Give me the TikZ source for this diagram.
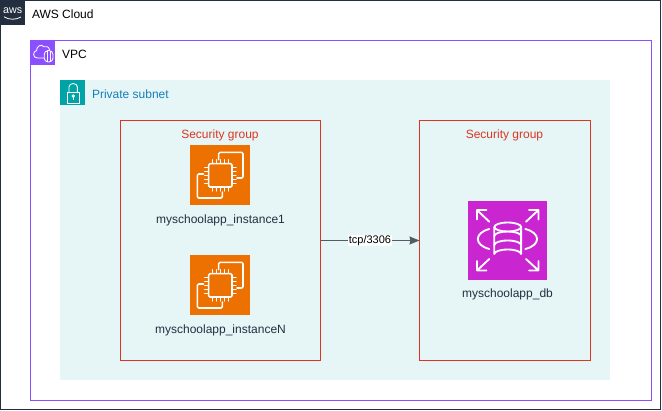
\documentclass[tikz,border=0pt]{standalone}
\usepackage{fontspec}
\setmainfont{Liberation Sans}
\usetikzlibrary{arrows.meta,positioning}
\definecolor{awsdark}{HTML}{232F3E}
\definecolor{vpcpurple}{HTML}{8C4FFF}
\definecolor{subteal}{HTML}{00A4A6}
\definecolor{subfill}{HTML}{E6F6F7}
\definecolor{subtext}{HTML}{147EBA}
\definecolor{sgred}{HTML}{DD3522}
\definecolor{ec2orange}{HTML}{ED7100}
\definecolor{rdspink}{HTML}{C925D1}
\definecolor{linegray}{HTML}{545B64}
\definecolor{labeltext}{HTML}{232F3E}
\tikzset{
  px/.style={inner sep=0pt,outer sep=0pt},
  boxframe/.style={px,draw,line width=0.75pt,anchor=north west},
  iconbox/.style={px,anchor=north west,minimum width=#1*0.75pt,minimum height=#1*0.75pt},
  glyph/.style={draw=white,line width=1.15pt,line join=round,line cap=round,fill=none},
  thinglyph/.style={draw=white,line width=0.65pt,line join=round,fill=none},
  lab/.style={px,font=\fontsize{9}{11}\selectfont,text=black},
  sgtitle/.style={lab,text=sgred},
  iconlab/.style={lab,text=labeltext},
}
\newcommand{\ectwo}[1]{%
\begin{scope}[shift={(#1)}]
  \draw[glyph,rounded corners=1pt] (28.7,14.7) -- (28.7,7.3) -- (53,7.3) -- (53,33) -- (47,33);
  \draw[glyph,rounded corners=1pt] (13.7,29) -- (7.3,29) -- (7.3,53) -- (32.3,53) -- (32.3,47);
  \draw[glyph,rounded corners=1pt] (18.7,18.7) rectangle (42,42);
  \foreach \p in {22.3,26.3,30.3,34.3,38.3}{
    \draw[glyph,line width=0.8pt] (\p,14.7) -- (\p,18.7);
    \draw[glyph,line width=0.8pt] (\p,42) -- (\p,46);
    \draw[glyph,line width=0.8pt] (14.7,\p) -- (18.7,\p);
    \draw[glyph,line width=0.8pt] (42,\p) -- (46,\p);
  }
\end{scope}}
\begin{document}
\begin{tikzpicture}[x=0.75pt,y=-0.75pt]
\useasboundingbox (0,0) rectangle (662,411);
\fill[white] (0,0) rectangle (662,411);
% containers
\node[boxframe,draw=awsdark,minimum width=659.5*0.75pt,minimum height=409*0.75pt] (cloud) at (0.5,0.5) {};
\node[boxframe,draw=vpcpurple,minimum width=620.5*0.75pt,minimum height=359.5*0.75pt] (vpc) at (30.5,40.5) {};
\node[px,anchor=north west,fill=subfill,minimum width=550*0.75pt,minimum height=300*0.75pt] (subnet) at (60,80) {};
\node[boxframe,draw=sgred,minimum width=200*0.75pt,minimum height=240*0.75pt] (sgleft) at (120.5,120.5) {};
\node[boxframe,draw=sgred,minimum width=171*0.75pt,minimum height=240*0.75pt] (sgright) at (419.5,120.5) {};
% AWS badge
\node[iconbox=25,fill=awsdark] (awsicon) at (0,0) {};
\node[px,text=white,font=\fontsize{8}{8}\selectfont] (awsword) at (12.7,10.8) {aws};
\draw[white,line width=0.6pt] (4,16.8) .. controls (9,20) and (16,20) .. (21,17);
% VPC badge
\node[iconbox=25,fill=vpcpurple] (vpcicon) at (30,40) {};
\begin{scope}[shift={(30,40)}]
  \draw[thinglyph] (14,18) -- (7.5,18) .. controls (2.5,18) and (2.5,11.5) .. (6.5,10.5) .. controls (6.5,6) and (11.5,3.5) .. (14,6.8) .. controls (16,5.5) and (19.5,7) .. (19.5,10);
  \draw[thinglyph,rounded corners=3pt] (14.2,10.5) rectangle (23,22);
  \draw[thinglyph] (17,11) -- (17,21.5) (20.2,11) -- (20.2,21.5);
\end{scope}
% subnet badge
\node[iconbox=25,fill=subteal] (subicon) at (60,80) {};
\begin{scope}[shift={(60,80)}]
  \draw[thinglyph] (7,12) rectangle (19.5,23.5);
  \draw[thinglyph] (9,12) -- (9,7) arc[start angle=180,end angle=360,x radius=4.2,y radius=3.5] -- (17.4,12);
  \draw[thinglyph] (13.2,16) circle[radius=1.3];
  \draw[thinglyph] (13.2,17.3) -- (13.2,20);
\end{scope}
% container labels
\node[lab,anchor=west] (cloudlab) at (32,14) {AWS Cloud};
\node[lab,anchor=west] (vpclab) at (62,54) {VPC};
\node[lab,anchor=west,text=subtext] (sublab) at (92,94) {Private subnet};
\node[sgtitle] (sgltitle) at (220,135.3) {Security group};
\node[sgtitle] (sgrtitle) at (504.5,135.3) {Security group};
% EC2 icons
\node[iconbox=60,fill=ec2orange] (econe) at (190,145) {};
\ectwo{190,145}
\node[iconbox=60,fill=ec2orange] (ectwob) at (190,255) {};
\ectwo{190,255}
\node[iconlab] (eclabone) at (220.5,220.2) {myschoolapp\_instance1};
\node[iconlab] (eclabtwo) at (220.5,330.2) {myschoolapp\_instanceN};
% RDS icon
\node[iconbox=79,fill=rdspink] (rds) at (468,201) {};
\begin{scope}[shift={(468,201)}]
  \draw[glyph,line width=1.4pt] (39.7,26) ellipse[x radius=13.4,y radius=4.5];
  \draw[glyph,line width=1.4pt] (26.3,26) -- (26.3,53) arc[start angle=180,end angle=360,x radius=13.4,y radius=4.5] -- (53.1,26);
  \draw[glyph,line width=1.4pt] (26.3,35) arc[start angle=180,end angle=360,x radius=13.4,y radius=4.5];
  \draw[glyph,line width=1.4pt] (26.3,44) arc[start angle=180,end angle=360,x radius=13.4,y radius=4.5];
  \draw[glyph,line width=1.4pt] (21.3,28) .. controls (6,32) and (6,44) .. (21.3,48);
  \draw[glyph,line width=1.4pt] (57.3,28) .. controls (73,32) and (73,44) .. (57.3,48);
  \draw[glyph,line width=1.4pt] (9,9) -- (21.3,20.7) (9,18.5) -- (9,9) -- (18.5,9);
  \draw[glyph,line width=1.4pt] (70.5,9) -- (58,20.7) (61,9) -- (70.5,9) -- (70.5,18.5);
  \draw[glyph,line width=1.4pt] (9,69.5) -- (21.3,58) (9,60) -- (9,69.5) -- (18.5,69.5);
  \draw[glyph,line width=1.4pt] (70.5,69.5) -- (58,58) (61,69.5) -- (70.5,69.5) -- (70.5,60);
\end{scope}
\node[iconlab] (rdslab) at (507.5,294.2) {myschoolapp\_db};
% connector
\draw[draw=linegray,line width=0.75pt,-{Stealth[length=7.5pt,width=6pt,inset=0.6pt]}] (sgleft.east) -- node[px,fill=white,inner xsep=0.5pt,inner ysep=0.5pt,text=black,font=\fontsize{8.25}{10}\selectfont] (conlab) {tcp/3306} (sgright.west);
\end{tikzpicture}
\end{document}
